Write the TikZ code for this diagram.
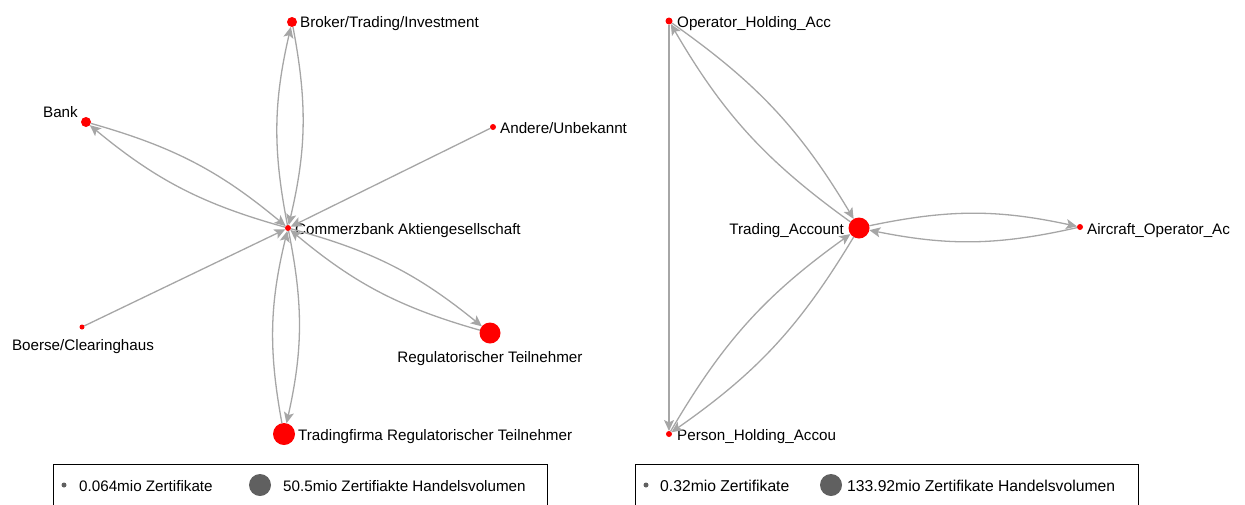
\documentclass[tikz,border=0pt]{standalone}
\usepackage{fontspec}
\setmainfont{Liberation Sans}
\usetikzlibrary{arrows.meta}
\definecolor{edgegray}{HTML}{A6A6A6}
\definecolor{leggray}{HTML}{606060}
\tikzset{
  vnode/.style={circle, fill=red, draw=none, inner sep=0pt, outer sep=0pt, minimum size=#1},
  lbl/.style={inner sep=0pt, font=\fontsize{15.2}{17}\selectfont},
  lblr/.style={inner sep=0pt, font=\fontsize{15.7}{17}\selectfont},
  edge/.style={draw=edgegray, line width=1.3pt, -{Stealth[length=11pt,width=10pt,inset=2.5pt]}},
  bl/.style={edge, bend left=12},
  legdot/.style={circle, fill=leggray, draw=none, inner sep=0pt, minimum size=#1},
  legbox/.style={draw=black, line width=1pt}
}
\begin{document}
\begin{tikzpicture}[x=1pt, y=-1pt]
\useasboundingbox (0,0) rectangle (1245,504);
% ---------- left graph ----------
\node[vnode=6]  (cb)  at (288,228) {};
\node[vnode=10] (bro) at (292,22) {};
\node[vnode=10] (bank) at (86,122) {};
\node[vnode=6]  (and) at (493,127) {};
\node[vnode=5]  (boe) at (82,327) {};
\node[vnode=21] (reg) at (490,333) {};
\node[vnode=22] (tf)  at (284,434) {};

\node[lbl, anchor=base west] (lcb) at (295,234) {Commerzbank Aktiengesellschaft};
\node[lbl, anchor=base west] (lbro) at (300,27) {Broker/Trading/Investment};
\node[lbl, anchor=base east] (lbank) at (78,117) {Bank};
\node[lbl, anchor=base west] (land) at (500,133) {Andere/Unbekannt};
\node[lbl, anchor=base] (lboe) at (83,350) {Boerse/Clearinghaus};
\node[lbl, anchor=base] (lreg) at (490,362) {Regulatorischer Teilnehmer};
\node[lbl, anchor=base west] (ltf) at (298,440) {Tradingfirma Regulatorischer Teilnehmer};

\draw[bl] (cb) to (bro);
\draw[bl] (bro) to (cb);
\draw[bl] (cb) to (bank);
\draw[bl] (bank) to (cb);
\draw[bl] (cb) to (reg);
\draw[bl] (reg) to (cb);
\draw[bl] (cb) to (tf);
\draw[bl] (tf) to (cb);
\draw[edge] (and) -- (cb);
\draw[edge] (boe) -- (cb);

% ---------- right graph ----------
\node[vnode=7]  (op)  at (669,21) {};
\node[vnode=21] (ta)  at (859,228) {};
\node[vnode=6]  (ac)  at (1080,227) {};
\node[vnode=6]  (ph)  at (669,434) {};

\node[lbl, anchor=base west] (lop) at (677,27) {Operator\_Holding\_Acc};
\node[lbl, anchor=base east] (lta) at (844,234) {Trading\_Account};
\node[lbl, anchor=base west] (lac) at (1087,234) {Aircraft\_Operator\_Ac};
\node[lbl, anchor=base west] (lph) at (677,440) {Person\_Holding\_Accou};

\draw[bl] (op) to (ta);
\draw[bl] (ta) to (op);
\draw[bl] (ta) to (ac);
\draw[bl] (ac) to (ta);
\draw[bl] (ta) to (ph);
\draw[bl] (ph) to (ta);
\draw[edge] (op) -- (ph);

% ---------- legends ----------
\draw[legbox] (53,464) rectangle (547,512);
\node[legdot=5] (ls1) at (64,485) {};
\node[lbl, anchor=base west] (lt1) at (79,491) {0.064mio Zertifikate};
\node[legdot=22] (lb1) at (260,485) {};
\node[lbl, anchor=base west] (lt2) at (283,491) {50.5mio Zertifiakte Handelsvolumen};

\draw[legbox] (635,464) rectangle (1138,512);
\node[legdot=5] (ls2) at (646,485) {};
\node[lblr, anchor=base west] (lt3) at (660,491) {0.32mio Zertifikate};
\node[legdot=22] (lb2) at (831,485) {};
\node[lblr, anchor=base west] (lt4) at (847,491) {133.92mio Zertifikate Handelsvolumen};
\end{tikzpicture}
\end{document}
